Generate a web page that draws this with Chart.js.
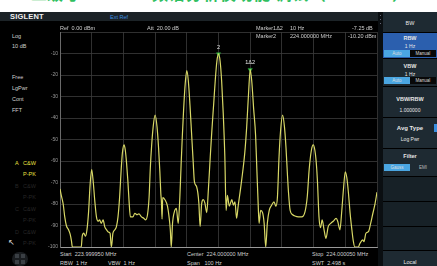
<!DOCTYPE html>
<html><head><meta charset="utf-8">
<script src="https://cdn.jsdelivr.net/npm/chart.js@4/dist/chart.umd.min.js"></script>
<style>
html,body{margin:0;padding:0;width:437px;height:266px;overflow:hidden;background:#fff;font-family:"Liberation Sans",Arial,sans-serif;}
#screen{position:absolute;left:0;top:12px;width:437px;height:254px;background:#000;}
.t{position:absolute;white-space:nowrap;font-size:5.5px;color:#cfcfcf;line-height:6px;}
.title{position:absolute;top:-15px;font-family:"Noto Sans CJK SC",sans-serif;font-weight:bold;font-size:16px;line-height:16px;color:#2fbf60;white-space:nowrap;}
.btn{position:absolute;left:383px;width:54px;background:#1e2a32;}
.bt{position:absolute;left:383px;width:54px;text-align:center;font-size:5.5px;color:#e6e6e6;line-height:6px;}
.tog{position:absolute;height:7px;font-size:4.5px;line-height:7px;text-align:center;color:#ddd;}
canvas{position:absolute;left:0;top:0;z-index:2;}
.over{z-index:3;}
</style></head>
<body>
<div class="title" style="left:31px;">二级号</div>
<div class="title" style="left:152px;letter-spacing:1px;">频谱分析仪功能 调试（</div>
<div class="title" style="left:392px;">）</div>
<div id="screen"></div>
<!-- top bar -->
<div style="position:absolute;left:0;top:12px;width:380px;height:9px;background:#1c2327;"></div>
<div class="t" style="left:10px;top:13px;font-size:7.5px;line-height:8px;font-weight:bold;color:#f0f0f0;letter-spacing:0.2px;">SIGLENT</div>
<div class="t" style="left:110px;top:14px;font-size:5.5px;color:#3d8fe0;">Ext Ref</div>
<div style="position:absolute;left:378px;top:12px;width:5px;height:254px;background:#0a0e11;"></div>
<div style="position:absolute;left:380px;top:15px;width:1px;height:1px;background:#667;"></div>
<div style="position:absolute;left:380px;top:19px;width:1px;height:1px;background:#667;"></div>
<div style="position:absolute;left:380px;top:23px;width:1px;height:1px;background:#667;"></div>
<!-- header row -->
<div class="t over" style="left:60px;top:25px;">Ref&nbsp;&nbsp;0.00 dBm</div>
<div class="t over" style="left:147px;top:25px;">Att&nbsp;&nbsp;20.00 dB</div>
<div class="t over" style="left:256px;top:25px;">Marker1Δ2</div>
<div class="t over" style="left:290px;top:25px;">10 Hz</div>
<div class="t over" style="left:352px;top:25px;">-7.25 dB</div>
<div class="t over" style="left:256px;top:33px;">Marker2</div>
<div class="t over" style="left:290px;top:33px;">224.000000 MHz</div>
<div class="t over" style="left:348px;top:33px;">-10.20 dBm</div>
<!-- left panel -->
<div class="t" style="left:12px;top:33px;">Log</div>
<div class="t" style="left:12px;top:43px;">10 dB</div>
<div class="t" style="left:12px;top:74px;">Free</div>
<div class="t" style="left:12px;top:85px;">LgPwr</div>
<div class="t" style="left:12px;top:96px;">Cont</div>
<div class="t" style="left:12px;top:107px;">FFT</div>
<div class="t" style="left:15px;top:160px;color:#e8e040;">A</div>
<div class="t" style="left:23px;top:160px;color:#e8e040;">C&amp;W</div>
<div class="t" style="left:23px;top:171px;color:#e8e040;">P-PK</div>
<div class="t" style="left:15px;top:183px;color:#262626;">B</div>
<div class="t" style="left:23px;top:183px;color:#262626;">C&amp;W</div>
<div class="t" style="left:23px;top:194px;color:#262626;">P-PK</div>
<div class="t" style="left:15px;top:206px;color:#262626;">C</div>
<div class="t" style="left:23px;top:206px;color:#262626;">C&amp;W</div>
<div class="t" style="left:23px;top:217px;color:#262626;">P-PK</div>
<div class="t" style="left:15px;top:229px;color:#262626;">D</div>
<div class="t" style="left:23px;top:229px;color:#262626;">C&amp;W</div>
<div class="t" style="left:23px;top:240px;color:#262626;">P-PK</div>
<div style="position:absolute;left:12px;top:252px;width:16px;height:14px;border-radius:7px;background:#1a1d20;"></div>
<div style="position:absolute;left:15px;top:254px;width:4px;height:4px;background:#3a3f44;"></div>
<div style="position:absolute;left:21px;top:254px;width:4px;height:4px;background:#3a3f44;"></div>
<div style="position:absolute;left:15px;top:260px;width:4px;height:4px;background:#3a3f44;"></div>
<div style="position:absolute;left:21px;top:260px;width:4px;height:4px;background:#3a3f44;"></div>
<div class="t" style="left:8px;top:240px;font-size:8px;color:#ddd;">↖</div>
<!-- bottom info -->
<div class="t" style="left:60px;top:251px;">Start&nbsp;&nbsp;223.999950 MHz</div>
<div class="t" style="left:60px;top:260px;">RBW&nbsp;&nbsp;1 Hz</div>
<div class="t" style="left:108px;top:260px;">VBW&nbsp;&nbsp;1 Hz</div>
<div class="t" style="left:187px;top:251px;">Center&nbsp;&nbsp;224.000000 MHz</div>
<div class="t" style="left:187px;top:260px;">Span&nbsp;&nbsp;&nbsp;100 Hz</div>
<div class="t" style="left:312px;top:251px;">Stop&nbsp;&nbsp;224.000050 MHz</div>
<div class="t" style="left:312px;top:260px;">SWT&nbsp;&nbsp;2.498 s</div>
<!-- right panel -->
<div class="btn" style="top:12px;height:20px;"></div>
<div class="bt" style="top:20px;">BW</div>
<div class="btn" style="top:33px;height:25px;background:#2b5fae;"></div>
<div class="bt" style="top:35px;font-weight:bold;">RBW</div>
<div class="bt" style="top:43px;font-size:5px;">1 Hz</div>
<div class="tog" style="left:384px;top:50px;width:26px;background:#4aa6e2;">Auto</div>
<div class="tog" style="left:410px;top:50px;width:26px;background:#080808;">Manual</div>
<div class="btn" style="top:59px;height:27px;"></div>
<div class="bt" style="top:63px;font-weight:bold;">VBW</div>
<div class="bt" style="top:71px;font-size:5px;">1 Hz</div>
<div class="tog" style="left:384px;top:77px;width:26px;background:#4aa6e2;">Auto</div>
<div class="tog" style="left:410px;top:77px;width:26px;background:#080808;">Manual</div>
<div class="btn" style="top:87px;height:30px;"></div>
<div class="bt" style="top:96px;font-weight:bold;">VBW/RBW</div>
<div class="bt" style="top:107px;font-size:5px;">1.000000</div>
<div class="btn" style="top:118px;height:30px;"></div>
<div class="bt" style="top:125px;font-weight:bold;font-size:6px;">Avg Type</div>
<div class="bt" style="top:136px;font-size:5px;">Log Pwr</div>
<div style="position:absolute;left:434px;top:124px;width:3px;height:8px;background:#3a8ee0;"></div>
<div class="btn" style="top:149px;height:27px;"></div>
<div class="bt" style="top:153px;font-weight:bold;">Filter</div>
<div class="tog" style="left:384px;top:164px;width:26px;background:#4aa6e2;">Gauss</div>
<div class="tog" style="left:410px;top:164px;width:26px;color:#bbb;">EMI</div>
<div class="btn" style="top:177px;height:24px;background:#172127;"></div>
<div class="btn" style="top:202px;height:24px;background:#172127;"></div>
<div class="btn" style="top:227px;height:23px;background:#172127;"></div>
<div class="btn" style="top:251px;height:15px;background:#1e2a32;"></div>
<div class="bt" style="top:259px;">Local</div>
<canvas id="c" width="437" height="266"></canvas>
<script>
// Frequency offset from 224.000000 MHz centre (Hz) and trace level (dBm)
const freqHz = [
-50.0,-49.6,-49.0,-48.5,-48.0,-47.3,-46.8,-46.4,-46.1,-43.3,-43.0,-42.5,-42.0,-41.5,-41.0,-40.5,-40.0,-39.5,-39.0,-38.5,
-38.0,-37.5,-37.0,-36.4,-35.9,-35.3,-34.8,-34.2,-33.8,-33.3,-32.7,-32.2,-31.7,-31.2,-30.7,-30.3,-29.8,-29.4,-29.0,-28.6,
-28.2,-27.8,-27.0,-26.4,-25.7,-25.1,-24.3,-23.6,-23.0,-22.4,-21.9,-21.5,-21.1,-20.6,-20.0,-19.4,-18.9,-18.5,-18.2,-18.0,
-17.8,-17.6,-16.9,-16.1,-15.6,-15.2,-14.9,-14.5,-13.8,-13.3,-12.7,-12.2,-11.8,-11.4,-11.0,-10.5,-10.0,-9.5,-9.0,-8.5,
-8.0,-7.6,-6.9,-6.2,-5.8,-5.3,-4.8,-4.3,-3.7,-3.2,-2.6,-2.1,-1.5,-1.0,-0.5,0.0,0.5,1.0,1.5,2.0,
2.4,2.8,3.4,4.2,4.7,5.2,5.7,6.2,7.3,8.3,8.9,9.5,10.0,10.5,11.1,11.7,12.1,12.5,12.8,13.3,
13.9,14.4,14.9,15.4,16.0,16.8,17.5,18.1,18.6,19.1,19.6,20.2,20.8,21.3,21.7,22.1,22.6,23.4,24.1,25.2,
26.2,27.3,28.0,28.6,29.3,29.9,30.4,30.8,31.2,31.7,32.2,32.7,33.3,33.9,34.6,35.4,36.2,37.1,37.6,38.3,
38.9,39.4,40.0,40.5,41.0,41.5,42.0,42.5,43.0,44.1,44.6,45.5,45.9,46.5,47.3,48.0,48.6,49.4,50.0
];
const levelDbm = [
-73,-76,-80,-86,-90,-92,-94,-97,-100,-100,-95,-93.5,-95,-92,-84,-71,-64,-70,-79,-86,
-88,-87.4,-89,-87.4,-90.5,-92,-93,-93.6,-100,-93.6,-92,-90.5,-86,-77,-64,-56,-52.5,-55,-61,-69,
-79,-86,-86,-84.3,-85,-84.6,-86,-86.6,-87.4,-85,-77,-63,-53,-44,-38.6,-44,-54,-65,-75,-79,
-87,-77,-78,-81,-86,-92,-100,-89,-83,-82,-89,-77,-62,-48,-36,-24,-18,-23,-34,-47,
-60,-69.6,-72,-79.5,-90.5,-79.7,-78,-79.5,-84,-73.5,-58,-46,-33,-22,-13.5,-10.2,-13.5,-23,-38,-58,
-83,-76,-81,-78,-80.5,-79,-86.6,-81,-69,-56,-44,-28,-17.5,-23,-36,-48,-64,-79.5,-89,-83,
-84,-89,-100,-89,-83,-80.5,-79,-81,-76.6,-58,-45.6,-38.6,-44,-54,-65,-75,-83,-85,-85.6,-86,
-86,-83.5,-76.6,-64,-55,-52.5,-55,-60,-69,-86,-91,-87.4,-92,-96,-90.5,-89,-88,-86.7,-88,-92,
-83,-73.5,-65,-68,-75,-84,-91,-97,-100,-100,-98.4,-96.7,-97.5,-93.6,-92.9,-89,-85,-79.7,-74.5
];
const markerFreq = [0, 10];
const markerLevel = [-10.2, -17.5];
const markerLabels = ['2', '1Δ2'];
const yMin = -100, yMax = 0, yStep = 10;
const xMin = -50, xMax = 50, xStep = 10;

const trace = freqHz.map((f, i) => ({x: f, y: levelDbm[i]}));
const markers = markerFreq.map((f, i) => ({x: f, y: markerLevel[i]}));

const markerLabelPlugin = {
  id: 'markerLabels',
  afterDatasetsDraw(chart) {
    const ctx = chart.ctx;
    const meta = chart.getDatasetMeta(1);
    ctx.save();
    ctx.font = '5.5px "Liberation Sans", Arial, sans-serif';
    ctx.fillStyle = '#e8e8e8';
    ctx.textAlign = 'center';
    ctx.textBaseline = 'bottom';
    meta.data.forEach((pt, i) => ctx.fillText(markerLabels[i], pt.x, pt.y - 4));
    ctx.restore();
  }
};

new Chart(document.getElementById('c'), {
  type: 'line',
  data: {
    datasets: [
      {data: trace, borderColor: '#d8d866', borderWidth: 1.2, pointRadius: 0,
       cubicInterpolationMode: 'monotone', fill: false},
      {data: markers, showLine: false, pointStyle: 'triangle', rotation: 180,
       pointRadius: 2.5, pointBackgroundColor: '#3fcf4f', pointBorderColor: '#2a8a35', pointBorderWidth: 0.5}
    ]
  },
  options: {
    responsive: false, animation: false, events: [],
    layout: {padding: {left: 40, right: 60, top: 32, bottom: 19}},
    plugins: {legend: {display: false}, tooltip: {enabled: false}},
    scales: {
      x: {type: 'linear', min: xMin, max: xMax,
          ticks: {display: false, stepSize: xStep},
          grid: {color: '#3c3c3c', lineWidth: 0.8, drawTicks: false},
          border: {color: '#9a9a9a', width: 1},
          afterFit(s) { s.height = 0; }},
      y: {min: yMin, max: yMax,
          ticks: {stepSize: yStep, color: '#9a9a9a', padding: 2,
                  font: {size: 5, family: '"Liberation Sans", Arial, sans-serif'},
                  callback: v => v === 0 ? '' : String(v)},
          grid: {color: ctx => ctx.tick && ctx.tick.value === yMin ? '#9a9a9a' : '#3c3c3c', lineWidth: 0.8, drawTicks: false},
          border: {color: '#6a6a6a', width: 1},
          afterFit(s) { s.width = 20; }}
    }
  },
  plugins: [markerLabelPlugin]
});
</script>
</body></html>
